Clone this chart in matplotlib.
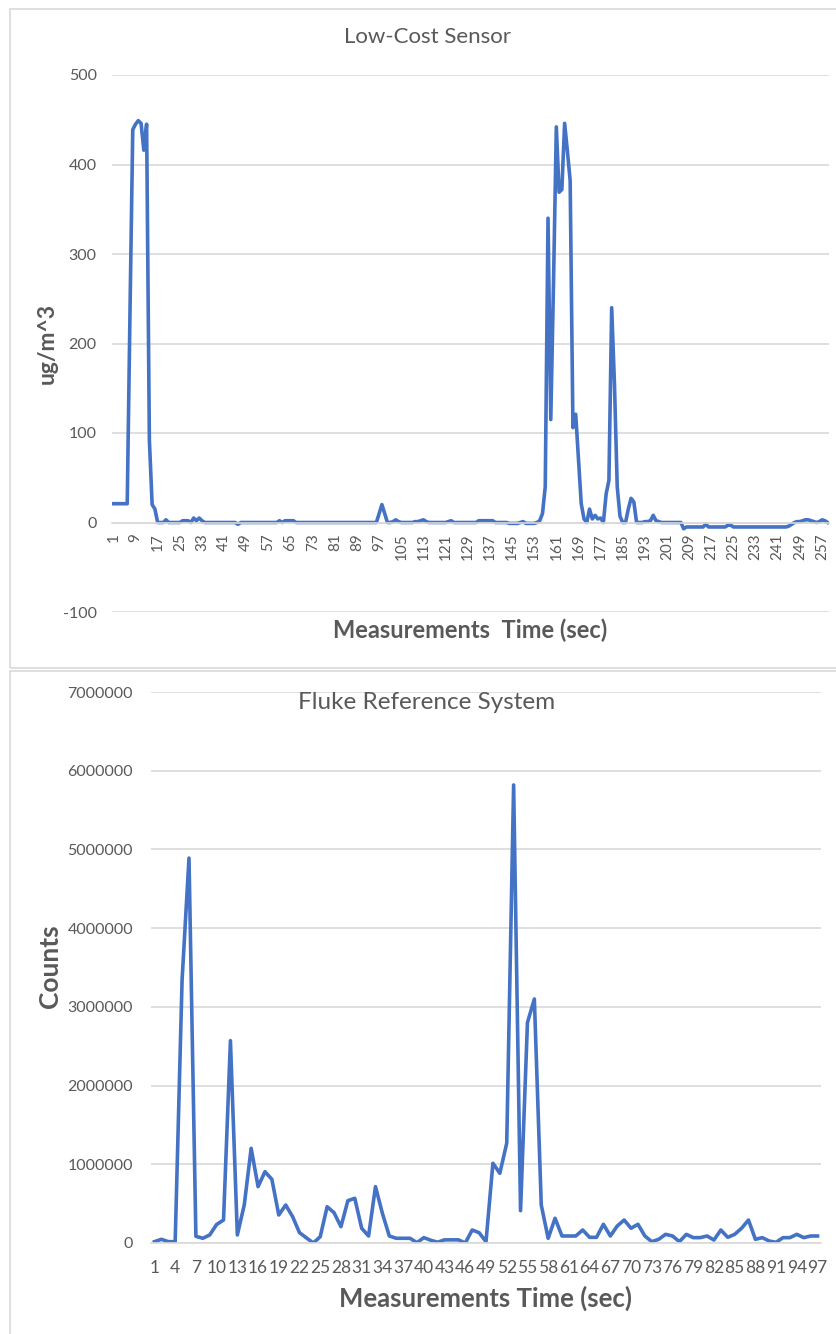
"""
Low-cost sensor vs Fluke reference system, two stacked line charts.
"""

import numpy as np
import matplotlib
matplotlib.use("Agg")
import matplotlib.pyplot as plt
from matplotlib.patches import Rectangle

# Low-cost sensor readings (ug/m^3), one value per second
sensor_values = [
    21, 21, 21, 21, 21, 21, 235, 439, 445, 449,
    446, 416, 445, 92, 20, 15, 0, 0, 0, 3,
    0, 0, 0, 0, 0, 2, 2, 2, 0, 5,
    2, 5, 2, 0, 0, 0, 0, 0, 0, 0,
    0, 0, 0, 0, 0, -2, 0, 0, 0, 0,
    0, 0, 0, 0, 0, 0, 0, 0, 0, 0,
    2, 0, 2, 2, 2, 2, 0, 0, 0, 0,
    0, 0, 0, 0, 0, 0, 0, 0, 0, 0,
    0, 0, 0, 0, 0, 0, 0, 0, 0, 0,
    0, 0, 0, 0, 0, 0, 10, 20, 10, 0,
    0, 1, 3, 1, 0, 0, 0, 0, 0, 1,
    1, 2, 3, 1, 0, 0, 0, 0, 0, 0,
    0, 1, 2, 0, 0, 0, 0, 0, 0, 0,
    0, 0, 2, 2, 2, 2, 2, 2, 0, 0,
    0, 0, 0, -1, -1, -1, -1, 0, 1, -1,
    -1, -1, -1, 0, 2, 10, 40, 340, 115, 270,
    442, 369, 372, 446, 415, 382, 106, 121, 70, 21,
    4, 0, 15, 4, 8, 4, 5, 0, 32, 47,
    240, 155, 40, 7, 0, 0, 15, 27, 23, 0,
    0, 0, 1, 1, 2, 8, 2, 1, 0, 0,
    0, 0, 0, 0, 0, 0, -7, -5, -5, -5,
    -5, -5, -5, -5, -2, -5, -5, -5, -5, -5,
    -5, -5, -3, -3, -5, -5, -5, -5, -5, -5,
    -5, -5, -5, -5, -5, -5, -5, -5, -5, -5,
    -5, -5, -5, -5, -4, -2, 0, 1, 1, 2,
    3, 3, 2, 1, 0, 1, 3, 2, 0,
]

# Fluke reference counts
fluke_values = [
    17000, 47000, 17000, 17000, 3340000, 4890000, 85000, 60000, 102000, 235000,
    292000, 2570000, 102000, 483000, 1203000, 716000, 906000, 809000, 356000, 483000,
    335000, 131000, 65000, 0, 80000, 461000, 385000, 207000, 537000, 568000,
    187000, 89000, 716000, 377000, 89000, 60000, 60000, 60000, 4000, 68000,
    35000, 10000, 40000, 40000, 40000, 0, 165000, 131000, 17000, 1013000,
    886000, 1267000, 5819000, 411000, 2800000, 3100000, 483000, 60000, 314000, 89000,
    89000, 89000, 165000, 72000, 72000, 238000, 89000, 216000, 292000, 187000,
    238000, 89000, 17000, 47000, 110000, 89000, 17000, 110000, 68000, 68000,
    89000, 38000, 165000, 72000, 110000, 187000, 292000, 47000, 68000, 25000,
    9000, 68000, 68000, 110000, 68000, 89000, 89000,
]

sensor_yticks = [-100, 0, 100, 200, 300, 400, 500]
fluke_yticks = [0, 1000000, 2000000, 3000000, 4000000, 5000000, 6000000, 7000000]

W, H = 837, 1334
LINE = "#4472C4"
GRID = "#D9D9D9"
TXT = "#595959"

plt.rcParams["font.family"] = ["Lato", "DejaVu Sans"]
plt.rcParams["axes.unicode_minus"] = False


def fx(px):
    return px / W


def fy(py):
    return 1 - py / H


def style_axes(ax, xtick_pos, rotation, pad_x, pad_y, xsize):
    ax.grid(axis="y", color=GRID, lw=1.2)
    ax.set_axisbelow(True)
    for s in ["top", "right", "left"]:
        ax.spines[s].set_visible(False)
    ax.spines["bottom"].set_color(GRID)
    ax.spines["bottom"].set_linewidth(1.2)
    ax.set_xticks(xtick_pos)
    ax.set_xticklabels([str(v) for v in xtick_pos], rotation=rotation)
    ax.tick_params(axis="both", length=0, colors=TXT, labelsize=11.5)
    ax.tick_params(axis="x", pad=pad_x, labelsize=xsize)
    ax.tick_params(axis="y", pad=pad_y)


fig = plt.figure(figsize=(W / 100, H / 100), dpi=100)

# panel borders
fig.patches.append(Rectangle((fx(10), fy(668)), fx(840) - fx(10), fy(9) - fy(668),
                             transform=fig.transFigure, fill=False, ec=GRID, lw=1.2))
fig.patches.append(Rectangle((fx(10), fy(1340)), fx(840) - fx(10), fy(671) - fy(1340),
                             transform=fig.transFigure, fill=False, ec=GRID, lw=1.2))

# --- top: low-cost sensor ---
ax1 = fig.add_axes([fx(112), fy(612), fx(829) - fx(112), fy(75) - fy(612)])
x1 = np.arange(1, len(sensor_values) + 1)
ax1.plot(x1, sensor_values, color=LINE, lw=2.6, solid_joinstyle="round")
ax1.set_xlim(0.5, len(sensor_values) + 0.5)
ax1.set_ylim(-100, 500)
ax1.set_yticks(sensor_yticks)
ax1.spines["bottom"].set_position(("data", 0))
style_axes(ax1, list(range(1, len(sensor_values) + 1, 8)), 90, 8, 11, 11)

fig.text(fx(428), fy(37), "Low-Cost Sensor", ha="center", va="center",
         fontsize=16, color=TXT)
fig.text(fx(47), fy(343), "ug/m^3", ha="center", va="center", rotation=90,
         fontsize=16.5, fontweight="bold", color=TXT)
fig.text(fx(470), fy(630), "Measurements  Time (sec)", ha="center", va="center",
         fontsize=17, fontweight="bold", color=TXT)

# --- bottom: Fluke reference ---
ax2 = fig.add_axes([fx(151), fy(1243), fx(821) - fx(151), fy(692) - fy(1243)])
x2 = np.arange(1, len(fluke_values) + 1)
ax2.plot(x2, fluke_values, color=LINE, lw=2.6, solid_joinstyle="round")
ax2.set_xlim(0.5, len(fluke_values) + 0.5)
ax2.set_ylim(0, 7000000)
ax2.set_yticks(fluke_yticks)
ax2.set_yticklabels([str(v) for v in fluke_yticks])
style_axes(ax2, list(range(1, len(fluke_values) + 1, 3)), 0, 12, 13, 12.5)

fig.text(fx(427), fy(702), "Fluke Reference System", ha="center", va="center",
         fontsize=17.5, color=TXT)
fig.text(fx(50), fy(966), "Counts", ha="center", va="center", rotation=90,
         fontsize=19, fontweight="bold", color=TXT)
fig.text(fx(486), fy(1298), "Measurements Time (sec)", ha="center", va="center",
         fontsize=18.5, fontweight="bold", color=TXT)

fig.savefig("out.png", dpi=100)
